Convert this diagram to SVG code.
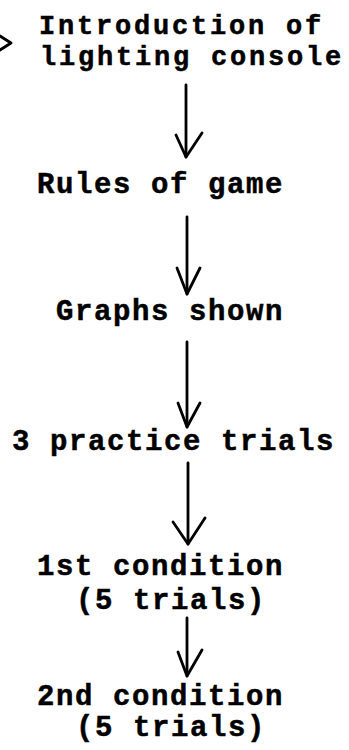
<svg xmlns="http://www.w3.org/2000/svg" width="349" height="750" viewBox="0 0 349 750">
  <style>
    .t { font-family: "Liberation Mono", "Courier New", monospace; font-weight: bold; font-size: 29px; letter-spacing: 1.6px; fill: #000; stroke: #000; stroke-width: 0.5; }
    .t.tight { font-size: 27px; letter-spacing: 2.8px; }
    .c { fill: none; stroke: #000; stroke-width: 2.8; stroke-linecap: round; stroke-linejoin: round; }
  </style>
  <rect width="349" height="750" fill="#fff"/>

  <!-- incoming arrowhead at the left edge -->
  <g id="entry">
    <path class="c" d="M0,36 L11,43 L0,50" stroke-width="4"/>
  </g>

  <g id="n-intro">
    <text class="t tight" x="39" y="34">Introduction of</text>
    <text class="t tight" x="40" y="65">lighting console</text>
  </g>
  <g id="n-rules">
    <text class="t" x="37" y="193">Rules of game</text>
  </g>
  <g id="n-graphs">
    <text class="t" x="56" y="320">Graphs shown</text>
  </g>
  <g id="n-practice">
    <text class="t" x="12" y="450">3 practice trials</text>
  </g>
  <g id="n-cond1">
    <text class="t" x="37" y="575">1st condition</text>
    <text class="t" x="76" y="609">(5 trials)</text>
  </g>
  <g id="n-cond2">
    <text class="t" x="37" y="705">2nd condition</text>
    <text class="t" x="76" y="736">(5 trials)</text>
  </g>

  <!-- flow arrows between the steps -->
  <g id="connectors">
    <path class="c" d="M186,85 L186,157"/>
    <path class="c" d="M176,135 L186,157 L202,133"/>

    <path class="c" d="M187,217 L187,294"/>
    <path class="c" d="M177,268 L187,294 L200,268"/>

    <path class="c" d="M187,342 L187,427"/>
    <path class="c" d="M178,403 L187,427 L200,403"/>

    <path class="c" d="M188,463 L188,544"/>
    <path class="c" d="M173,522 L188,544 L205,518"/>

    <path class="c" d="M187,618 L187,676"/>
    <path class="c" d="M178,652 L187,676 L202,650"/>
  </g>
</svg>
